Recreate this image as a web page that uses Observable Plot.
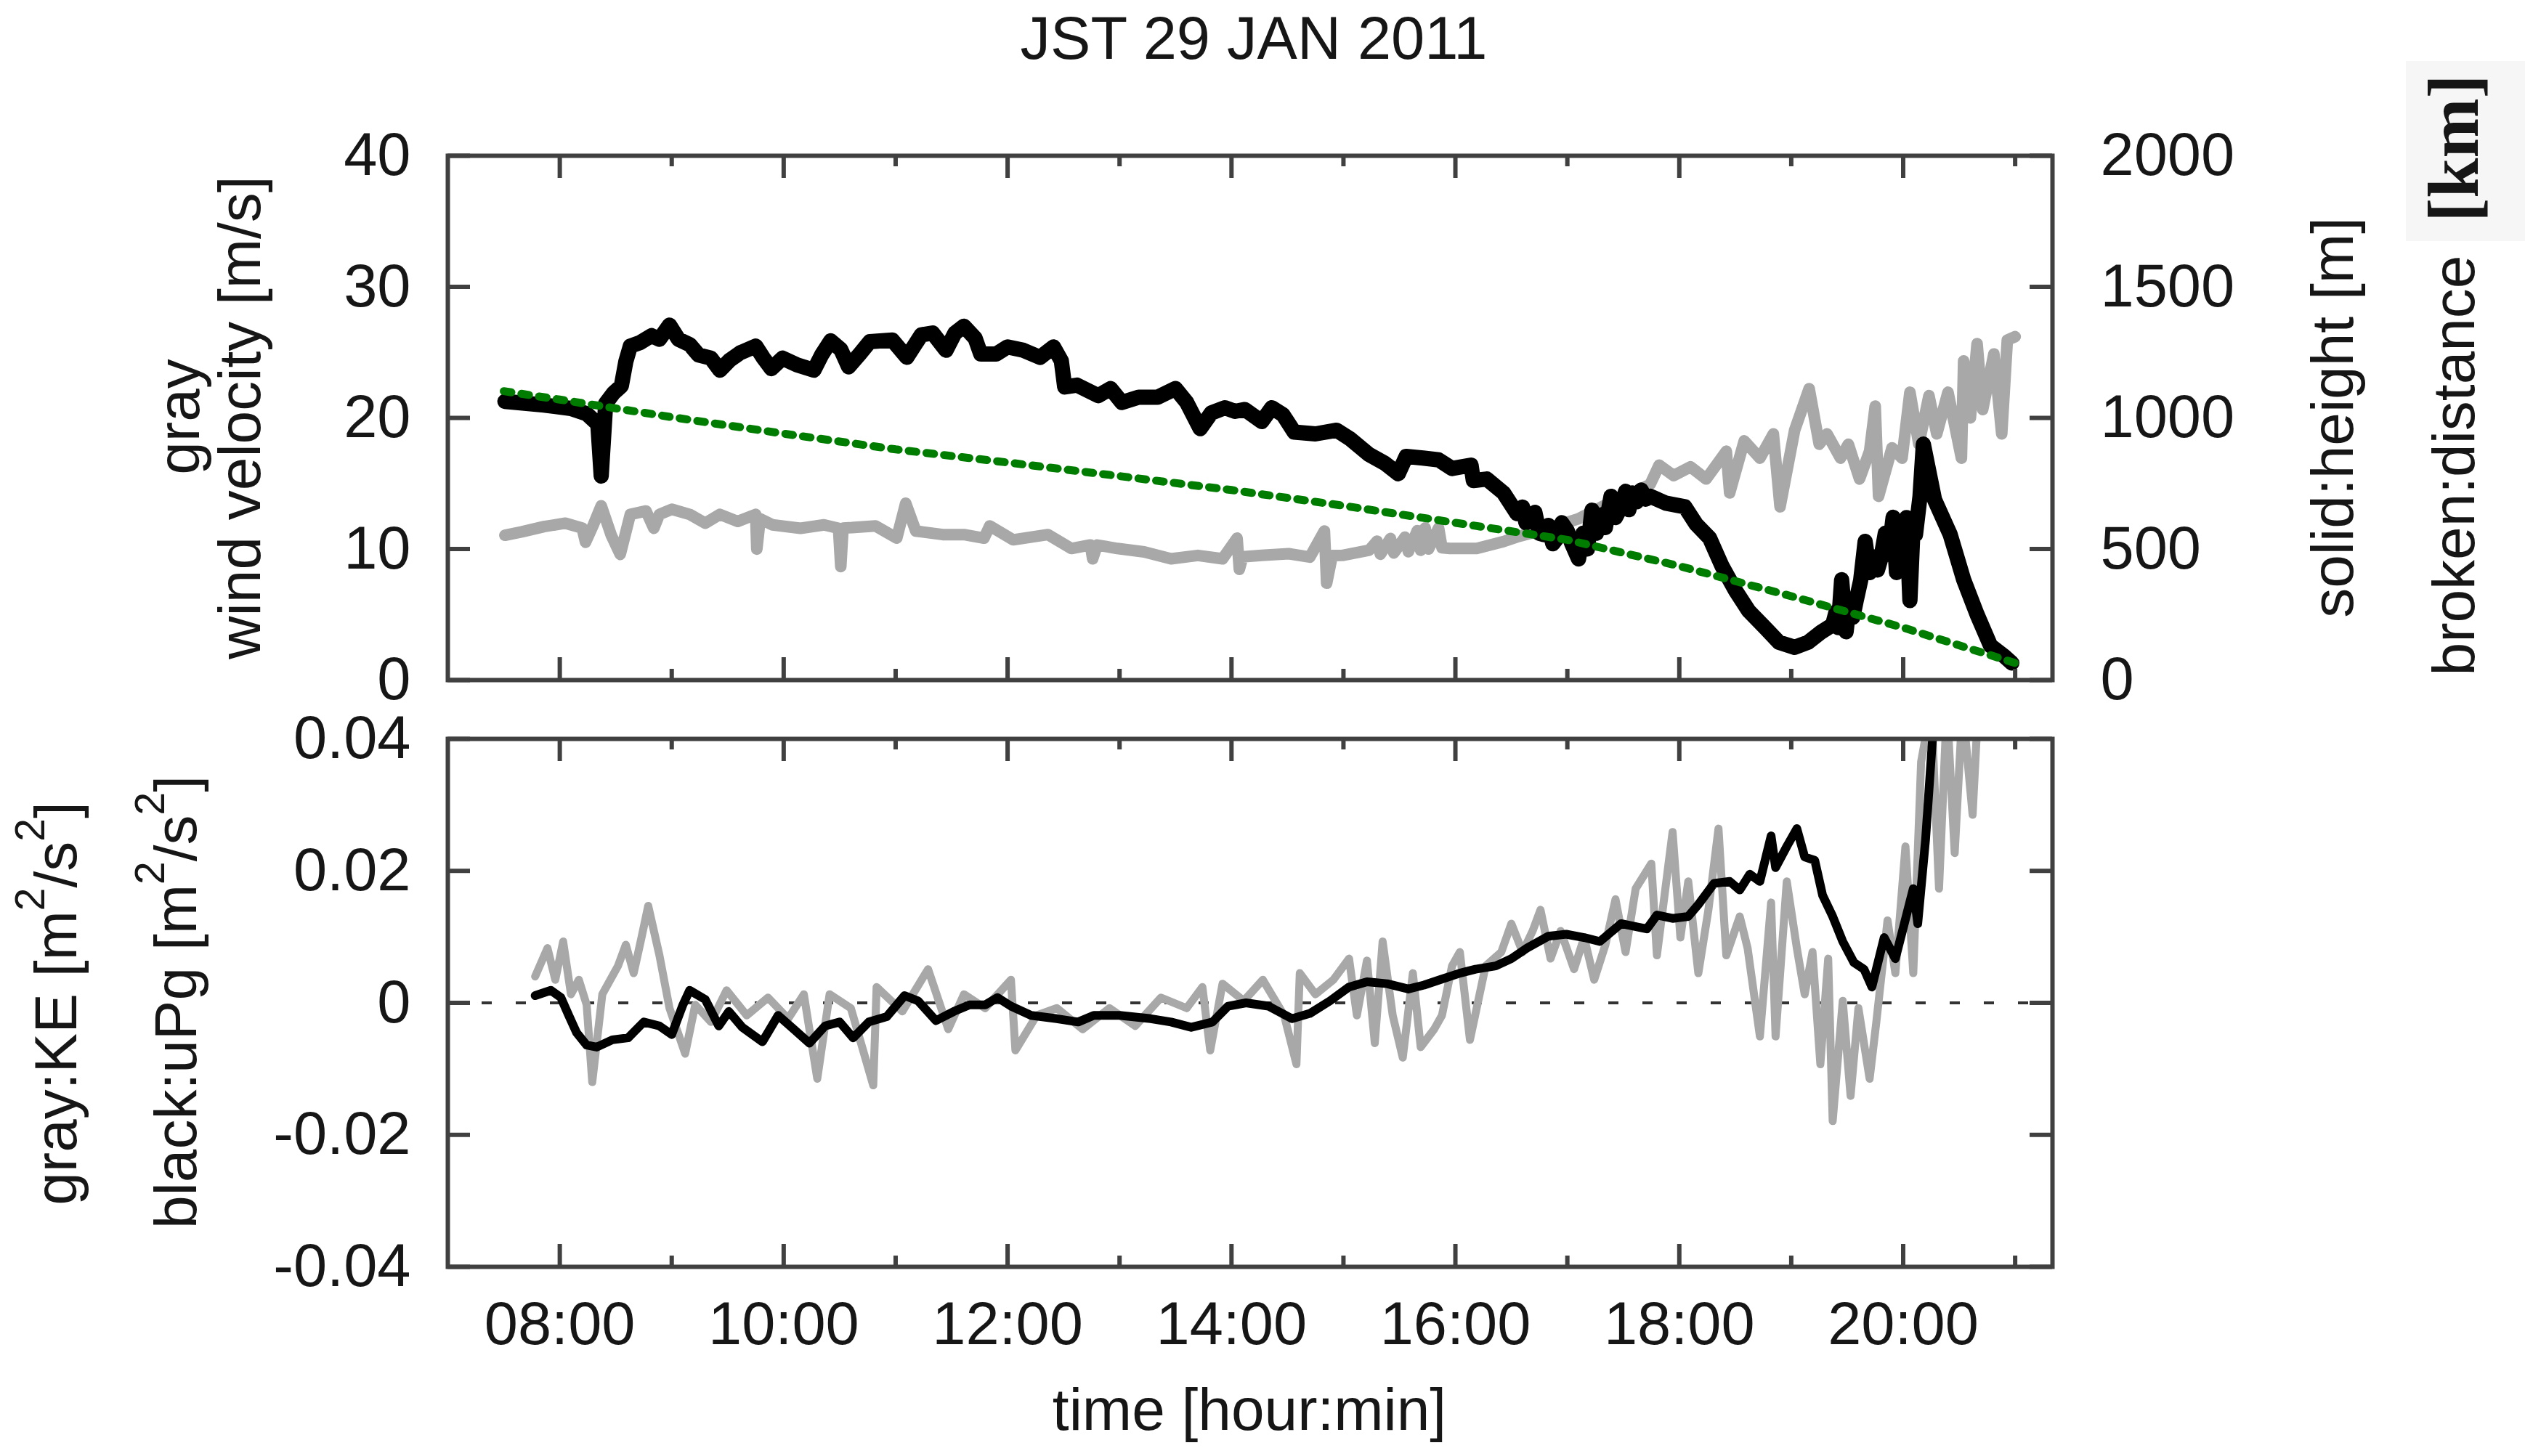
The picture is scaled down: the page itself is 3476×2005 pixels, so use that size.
<!DOCTYPE html>
<html>
<head>
<meta charset="utf-8">
<script src="https://cdn.jsdelivr.net/npm/d3@7"></script>
<script src="https://cdn.jsdelivr.net/npm/@observablehq/plot@0.6"></script>
<style>
  html, body { margin: 0; padding: 0; background: #fff; }
  #page { position: relative; width: 3476px; height: 2005px; overflow: hidden; background: #fff; }
  #page > svg { position: absolute; left: 0; }
</style>
</head>
<body>
<div id="page"></div>
<script>
// ---------------- DATA (time in decimal hours JST) ----------------
// Upper panel, left axis: wind velocity [m/s] (gray)
const windSeries = [
  [7.51,11.05],[7.66,11.31],[7.86,11.71],[8.05,11.97],[8.20,11.6],[8.23,10.52],[8.30,11.84],[8.37,13.3],
  [8.46,11.05],[8.54,9.59],[8.63,12.64],[8.77,12.9],[8.84,11.58],[8.89,12.64],[9.00,13.03],[9.16,12.64],
  [9.30,11.97],[9.43,12.64],[9.59,12.1],[9.75,12.64],[9.76,9.99],[9.79,12.3],[9.90,11.84],[10.15,11.58],
  [10.36,11.84],[10.49,11.58],[10.51,8.66],[10.53,11.6],[10.61,11.63],[10.82,11.76],[11.01,10.83],[11.09,13.49],
  [11.18,11.37],[11.42,11.1],[11.61,11.1],[11.79,10.83],[11.84,11.76],[12.05,10.7],[12.36,11.1],[12.57,10.04],
  [12.74,10.31],[12.76,9.25],[12.80,10.3],[12.98,10.04],[13.22,9.78],[13.46,9.25],[13.70,9.51],[13.92,9.25],
  [14.05,10.83],[14.07,8.45],[14.10,9.4],[14.27,9.51],[14.51,9.64],[14.70,9.38],[14.83,11.37],[14.85,7.39],
  [14.90,9.5],[14.99,9.51],[15.23,9.91],[15.30,10.6],[15.33,9.6],[15.42,10.8],[15.45,9.7],[15.55,10.9],
  [15.58,9.8],[15.66,11.4],[15.69,9.9],[15.73,11.6],[15.76,10.0],[15.85,11.6],[15.88,10.1],[15.95,10.04],
  [16.19,10.04],[16.43,10.57],[16.57,10.97],[16.80,11.5],[17.10,12.3],[17.35,13.4],[17.59,14.28],[17.74,14.94],
  [17.82,16.4],[17.95,15.6],[18.10,16.27],[18.24,15.34],[18.42,17.46],[18.45,14.28],[18.58,18.25],[18.72,16.93],
  [18.84,18.78],[18.90,13.22],[19.03,19.05],[19.16,22.23],[19.25,17.99],[19.32,18.78],[19.44,16.93],[19.51,17.99],
  [19.61,15.34],[19.70,17.46],[19.75,20.9],[19.78,14.02],[19.90,17.72],[19.99,16.93],[20.06,21.96],[20.14,17.99],
  [20.23,21.7],[20.30,18.78],[20.40,21.96],[20.52,16.93],[20.54,24.35],[20.60,20.0],[20.66,25.67],[20.71,20.64],
  [20.81,24.88],[20.88,18.78],[20.93,25.94],[21.00,26.2]
];
// Upper panel, right axis: height [m] (solid black)
const heightSeries = [
  [7.51,1063],[7.86,1049],[8.10,1036],[8.24,1016],[8.34,976],[8.37,778],[8.41,1055],[8.48,1095],[8.55,1122],
  [8.59,1215],[8.63,1274],[8.72,1288],[8.82,1314],[8.89,1300],[8.98,1354],[9.06,1300],[9.16,1280],[9.24,1240],
  [9.35,1228],[9.43,1182],[9.52,1221],[9.61,1248],[9.75,1274],[9.82,1228],[9.89,1188],[9.99,1228],[10.12,1202],
  [10.27,1182],[10.34,1241],[10.42,1294],[10.51,1261],[10.58,1195],[10.68,1244],[10.77,1291],[10.97,1297],
  [11.10,1231],[11.23,1317],[11.33,1324],[11.45,1258],[11.53,1324],[11.61,1350],[11.71,1304],[11.76,1244],
  [11.90,1244],[12.00,1271],[12.14,1258],[12.29,1231],[12.41,1271],[12.48,1218],[12.51,1118],[12.62,1125],
  [12.81,1085],[12.92,1112],[13.02,1059],[13.17,1079],[13.34,1079],[13.50,1112],[13.60,1059],[13.72,959],
  [13.82,1019],[13.94,1039],[14.03,1025],[14.12,1032],[14.27,986],[14.36,1039],[14.46,1012],[14.56,946],
  [14.75,939],[14.94,953],[15.06,920],[15.23,860],[15.37,827],[15.49,787],[15.56,853],[15.71,847],[15.85,840],
  [15.97,807],[16.14,820],[16.16,761],[16.28,767],[16.43,714],[16.55,635],[16.60,660],[16.63,600],[16.67,608],
  [16.71,640],[16.75,560],[16.79,555],[16.83,590],[16.87,520],[16.91,542],[16.95,600],[17.00,569],[17.04,520],
  [17.10,462],[17.14,560],[17.18,500],[17.22,648],[17.26,560],[17.30,630],[17.34,582],[17.39,701],[17.43,620],
  [17.48,661],[17.52,720],[17.55,650],[17.58,714],[17.62,680],[17.66,725],[17.70,690],[17.74,701],[17.88,675],
  [18.05,661],[18.15,595],[18.27,542],[18.38,436],[18.50,343],[18.62,264],[18.77,198],[18.89,144],[19.03,125],
  [19.15,144],[19.27,184],[19.37,211],[19.40,260],[19.42,200],[19.45,383],[19.49,184],[19.52,300],[19.55,240],
  [19.58,303],[19.62,380],[19.66,529],[19.70,410],[19.73,470],[19.77,420],[19.80,463],[19.84,560],[19.87,480],
  [19.91,621],[19.94,410],[19.97,600],[19.99,555],[20.03,620],[20.06,303],[20.09,600],[20.11,555],[20.15,700],
  [20.18,900],[20.28,688],[20.42,555],[20.54,383],[20.66,250],[20.78,131],[20.90,92],[20.97,65]
];
// Upper panel, right axis: distance [km] (broken green)
const distanceSeries = [
  [7.5,1102],[8,1070],[9,1003],[10,940],[11,880],[12,830],[13,778],[14,725],[15,665],[16,600],
  [17,535],[18,435],[19,320],[20,200],[21,65]
];
// Lower panel: KE [m^2/s^2] (gray)
const keSeries = [
  [7.78,0.0040],[7.89,0.0083],[7.96,0.0035],[8.03,0.0093],[8.10,0.0013],[8.17,0.0035],[8.24,-0.0003],[8.29,-0.0120],
  [8.38,0.0013],[8.52,0.0056],[8.59,0.0088],[8.66,0.0045],[8.73,0.0099],[8.79,0.0147],[8.89,0.0072],[8.98,-0.0008],
  [9.12,-0.0077],[9.21,-0.0003],[9.35,-0.0029],[9.49,0.0019],[9.67,-0.0019],[9.86,0.0008],[10.04,-0.0024],[10.18,0.0013],
  [10.30,-0.0115],[10.41,0.0013],[10.60,-0.0008],[10.80,-0.0125],[10.83,0.0024],[11.06,-0.0013],[11.29,0.0051],[11.47,-0.0040],
  [11.61,0.0013],[11.80,-0.0008],[12.03,0.0035],[12.07,-0.0072],[12.26,-0.0019],[12.44,-0.0008],[12.67,-0.0040],[12.91,-0.0008],
  [13.14,-0.0035],[13.37,0.0008],[13.60,-0.0008],[13.74,0.0024],[13.81,-0.0072],[13.92,0.0029],[14.11,0.0003],[14.28,0.0035],
  [14.47,-0.0019],[14.58,-0.0093],[14.61,0.0045],[14.75,0.0013],[14.91,0.0035],[15.05,0.0067],[15.12,-0.0019],[15.21,0.0064],
  [15.28,-0.0061],[15.35,0.0093],[15.44,-0.0019],[15.53,-0.0083],[15.62,0.0045],[15.69,-0.0067],[15.81,-0.0040],[15.88,-0.0019],
  [15.97,0.0056],[16.04,0.0077],[16.13,-0.0056],[16.27,0.0056],[16.41,0.0077],[16.50,0.0120],[16.60,0.0077],[16.69,0.0109],
  [16.76,0.0141],[16.85,0.0067],[16.94,0.0109],[17.06,0.0051],[17.15,0.0099],[17.24,0.0035],[17.34,0.0088],[17.43,0.0157],
  [17.52,0.0077],[17.61,0.0173],[17.75,0.0211],[17.80,0.0072],[17.94,0.0259],[18.01,0.0099],[18.08,0.0184],[18.17,0.0045],
  [18.26,0.0141],[18.35,0.0264],[18.42,0.0072],[18.54,0.0131],[18.61,0.0083],[18.72,-0.0051],[18.82,0.0152],[18.86,-0.0051],
  [18.96,0.0184],[19.05,0.0083],[19.12,0.0013],[19.19,0.0077],[19.26,-0.0093],[19.33,0.0067],[19.37,-0.0179],[19.46,0.0003],
  [19.53,-0.0141],[19.60,-0.0008],[19.70,-0.0115],[19.76,-0.0029],[19.86,0.0125],[19.93,0.0045],[20.02,0.0237],[20.09,0.0045],
  [20.16,0.0365],[20.25,0.0450],[20.32,0.0173],[20.39,0.0450],[20.46,0.0227],[20.53,0.0450],[20.62,0.0285],[20.67,0.0450]
];
// Lower panel: uPg [m^2/s^2] (black)
const upgSeries = [
  [7.78,0.0011],[7.92,0.0019],[8.01,0.0008],[8.08,-0.0019],[8.15,-0.0045],[8.24,-0.0064],[8.33,-0.0067],[8.47,-0.0056],
  [8.61,-0.0053],[8.75,-0.0029],[8.89,-0.0035],[9.00,-0.0048],[9.10,-0.0003],[9.16,0.0019],[9.30,0.0005],[9.42,-0.0035],
  [9.51,-0.0013],[9.63,-0.0037],[9.81,-0.0059],[9.95,-0.0019],[10.09,-0.0040],[10.23,-0.0061],[10.37,-0.0035],[10.50,-0.0029],
  [10.62,-0.0053],[10.76,-0.0029],[10.92,-0.0021],[11.08,0.0011],[11.20,0.0003],[11.36,-0.0027],[11.52,-0.0013],[11.66,-0.0003],
  [11.80,-0.0003],[11.91,0.0008],[12.03,-0.0005],[12.21,-0.0019],[12.44,-0.0024],[12.63,-0.0029],[12.77,-0.0019],[13.00,-0.0019],
  [13.28,-0.0024],[13.46,-0.0029],[13.64,-0.0037],[13.83,-0.0029],[13.97,-0.0005],[14.13,0.0000],[14.33,-0.0005],[14.54,-0.0024],
  [14.70,-0.0016],[14.88,0.0003],[15.05,0.0024],[15.21,0.0032],[15.39,0.0029],[15.58,0.0021],[15.72,0.0027],[15.86,0.0035],
  [16.04,0.0045],[16.18,0.0051],[16.36,0.0056],[16.50,0.0067],[16.64,0.0083],[16.83,0.0101],[16.99,0.0104],[17.15,0.0099],
  [17.29,0.0093],[17.48,0.0120],[17.71,0.0112],[17.80,0.0133],[17.94,0.0128],[18.08,0.0131],[18.17,0.0149],[18.31,0.0181],
  [18.45,0.0184],[18.54,0.0171],[18.63,0.0195],[18.72,0.0184],[18.82,0.0253],[18.86,0.0205],[18.96,0.0237],[19.05,0.0264],
  [19.12,0.0221],[19.21,0.0216],[19.28,0.0163],[19.37,0.0131],[19.46,0.0093],[19.56,0.0061],[19.65,0.0051],[19.72,0.0024],
  [19.83,0.0099],[19.93,0.0067],[20.09,0.0173],[20.13,0.0120],[20.20,0.0248],[20.27,0.0420]
];
// Ticks
const timeDomain = [7, 21 + 20 / 60];
const majorHours = [8, 10, 12, 14, 16, 18, 20];
const minorHours = [9, 11, 13, 15, 17, 19, 21];
const windTicks = [0, 10, 20, 30, 40];
const energyTicks = [-0.04, -0.02, 0, 0.02, 0.04];

// ---------------- LAYOUT ----------------
const FONT = '"Liberation Sans", Arial, Helvetica, sans-serif';
const INK = "#161616";
const BORDER = "#404040";
const PAGE_W = 3476, PAGE_H = 2005;
const FRAME_L = 616, FRAME_R = 2825;
const TOP_T = 214, TOP_B = 936;
const BOT_T = 1017, BOT_B = 1744;
const TICK_FONT = "83px";
const LABEL_SIZE = 82;
const hhmm = h => String(h).padStart(2, "0") + ":00";

function tickMarks(frameH, yTicks) {
  const major = 31, minor = 15, frameW = FRAME_R - FRAME_L;
  const s = {stroke: BORDER, strokeWidth: 6};
  return [
    Plot.ruleX(majorHours, {x: d => d, insetBottom: frameH - major, ...s}),
    Plot.ruleX(majorHours, {x: d => d, insetTop: frameH - major, ...s}),
    Plot.ruleX(minorHours, {x: d => d, insetBottom: frameH - minor, ...s}),
    Plot.ruleX(minorHours, {x: d => d, insetTop: frameH - minor, ...s}),
    Plot.ruleY(yTicks, {y: d => d, insetRight: frameW - major, ...s}),
    Plot.ruleY(yTicks, {y: d => d, insetLeft: frameW - major, ...s})
  ];
}

const page = document.getElementById("page");

// ---- Upper panel ----
const topH = 1000;
const topPlot = Plot.plot({
  width: PAGE_W, height: topH,
  marginTop: TOP_T, marginBottom: topH - TOP_B, marginLeft: FRAME_L, marginRight: PAGE_W - FRAME_R,
  style: {fontFamily: FONT, fontSize: TICK_FONT, color: INK, background: "transparent", overflow: "visible"},
  x: {domain: timeDomain, axis: null},
  y: {domain: [0, 40]},
  marks: [
    Plot.line(windSeries, {x: d => d[0], y: d => d[1], stroke: "#a8a8a8", strokeWidth: 16, strokeLinejoin: "round", strokeLinecap: "round"}),
    Plot.line(heightSeries, {x: d => d[0], y: d => d[1] / 50, stroke: "#000", strokeWidth: 21, strokeLinejoin: "round", strokeLinecap: "round"}),
    Plot.line(distanceSeries, {x: d => d[0], y: d => d[1] / 50, stroke: "#007d00", strokeWidth: 11, strokeDasharray: "10.5,14"}),
    ...tickMarks(TOP_B - TOP_T, windTicks),
    Plot.axisY(windTicks, {anchor: "left", tickSize: 0, tickPadding: 51, label: null}),
    Plot.axisY(windTicks, {anchor: "right", tickSize: 0, tickPadding: 66, tickFormat: d => String(d * 50), label: null}),
    Plot.frame({stroke: BORDER, strokeWidth: 6})
  ]
});
topPlot.style.top = "0px";
page.appendChild(topPlot);

// ---- Lower panel ----
const botTop = 980, botH = PAGE_H - botTop;
const botPlot = Plot.plot({
  width: PAGE_W, height: botH,
  marginTop: BOT_T - botTop, marginBottom: botTop + botH - BOT_B, marginLeft: FRAME_L, marginRight: PAGE_W - FRAME_R,
  style: {fontFamily: FONT, fontSize: TICK_FONT, color: INK, background: "transparent", overflow: "visible"},
  x: {domain: timeDomain},
  y: {domain: [-0.04, 0.04]},
  marks: [
    Plot.ruleY([0], {stroke: "#333", strokeWidth: 4, strokeDasharray: "14,33"}),
    Plot.line(keSeries, {x: d => d[0], y: d => d[1], stroke: "#a8a8a8", strokeWidth: 11, strokeLinejoin: "round", clip: true}),
    Plot.line(upgSeries, {x: d => d[0], y: d => d[1], stroke: "#000", strokeWidth: 12, strokeLinejoin: "round", clip: true}),
    ...tickMarks(BOT_B - BOT_T, energyTicks),
    Plot.axisY(energyTicks, {anchor: "left", tickSize: 0, tickPadding: 51, label: null,
      tickFormat: d => Math.abs(d) < 1e-9 ? "0" : d.toFixed(2)}),
    Plot.axisX(majorHours, {anchor: "bottom", tickSize: 0, tickPadding: 48, tickFormat: hhmm, label: null}),
    Plot.frame({stroke: BORDER, strokeWidth: 6})
  ]
});
botPlot.style.top = botTop + "px";
page.appendChild(botPlot);

// ---- Titles and axis labels ----
const svg = d3.create("svg")
  .attr("width", PAGE_W).attr("height", PAGE_H)
  .style("top", "0px").style("pointer-events", "none")
  .attr("font-family", FONT).attr("fill", INK);

svg.append("rect").attr("x", 3312).attr("y", 84).attr("width", 164).attr("height", 248).attr("fill", "#f6f6f6");

svg.append("text").attr("x", 1726).attr("y", 81).attr("text-anchor", "middle").attr("font-size", 83)
  .text("JST 29 JAN 2011");
svg.append("text").attr("x", 1720).attr("y", 1969).attr("text-anchor", "middle").attr("font-size", LABEL_SIZE)
  .text("time [hour:min]");

function vlabel(x, y, parts, size = LABEL_SIZE, family = FONT, weight = "normal") {
  const t = svg.append("text")
    .attr("transform", `translate(${x},${y}) rotate(-90)`)
    .attr("text-anchor", "middle").attr("font-size", size)
    .attr("font-family", family).attr("font-weight", weight);
  for (const p of parts) {
    if (typeof p === "string") t.append("tspan").text(p);
    else t.append("tspan").attr("dy", p.dy).attr("font-size", p.size || size).text(p.t);
  }
  return t;
}
const unitParts = [{t: "2", dy: -44, size: 57}, {t: "/s", dy: 44, size: LABEL_SIZE}, {t: "2", dy: -44, size: 57}, {t: "]", dy: 44, size: LABEL_SIZE}];
vlabel(274, 574, ["gray"]);
vlabel(358, 575, ["wind velocity [m/s]"]);
vlabel(3239, 575, ["solid:height [m]"]);
vlabel(3406, 641, ["broken:distance"]);
vlabel(3411, 204, ["[km]"], 99, '"Liberation Serif", "Times New Roman", serif', "bold");
vlabel(105, 1382, ["gray:KE [m", ...unitParts]);
vlabel(270, 1380, ["black:uPg [m", ...unitParts]);

page.appendChild(svg.node());
</script>
</body>
</html>
